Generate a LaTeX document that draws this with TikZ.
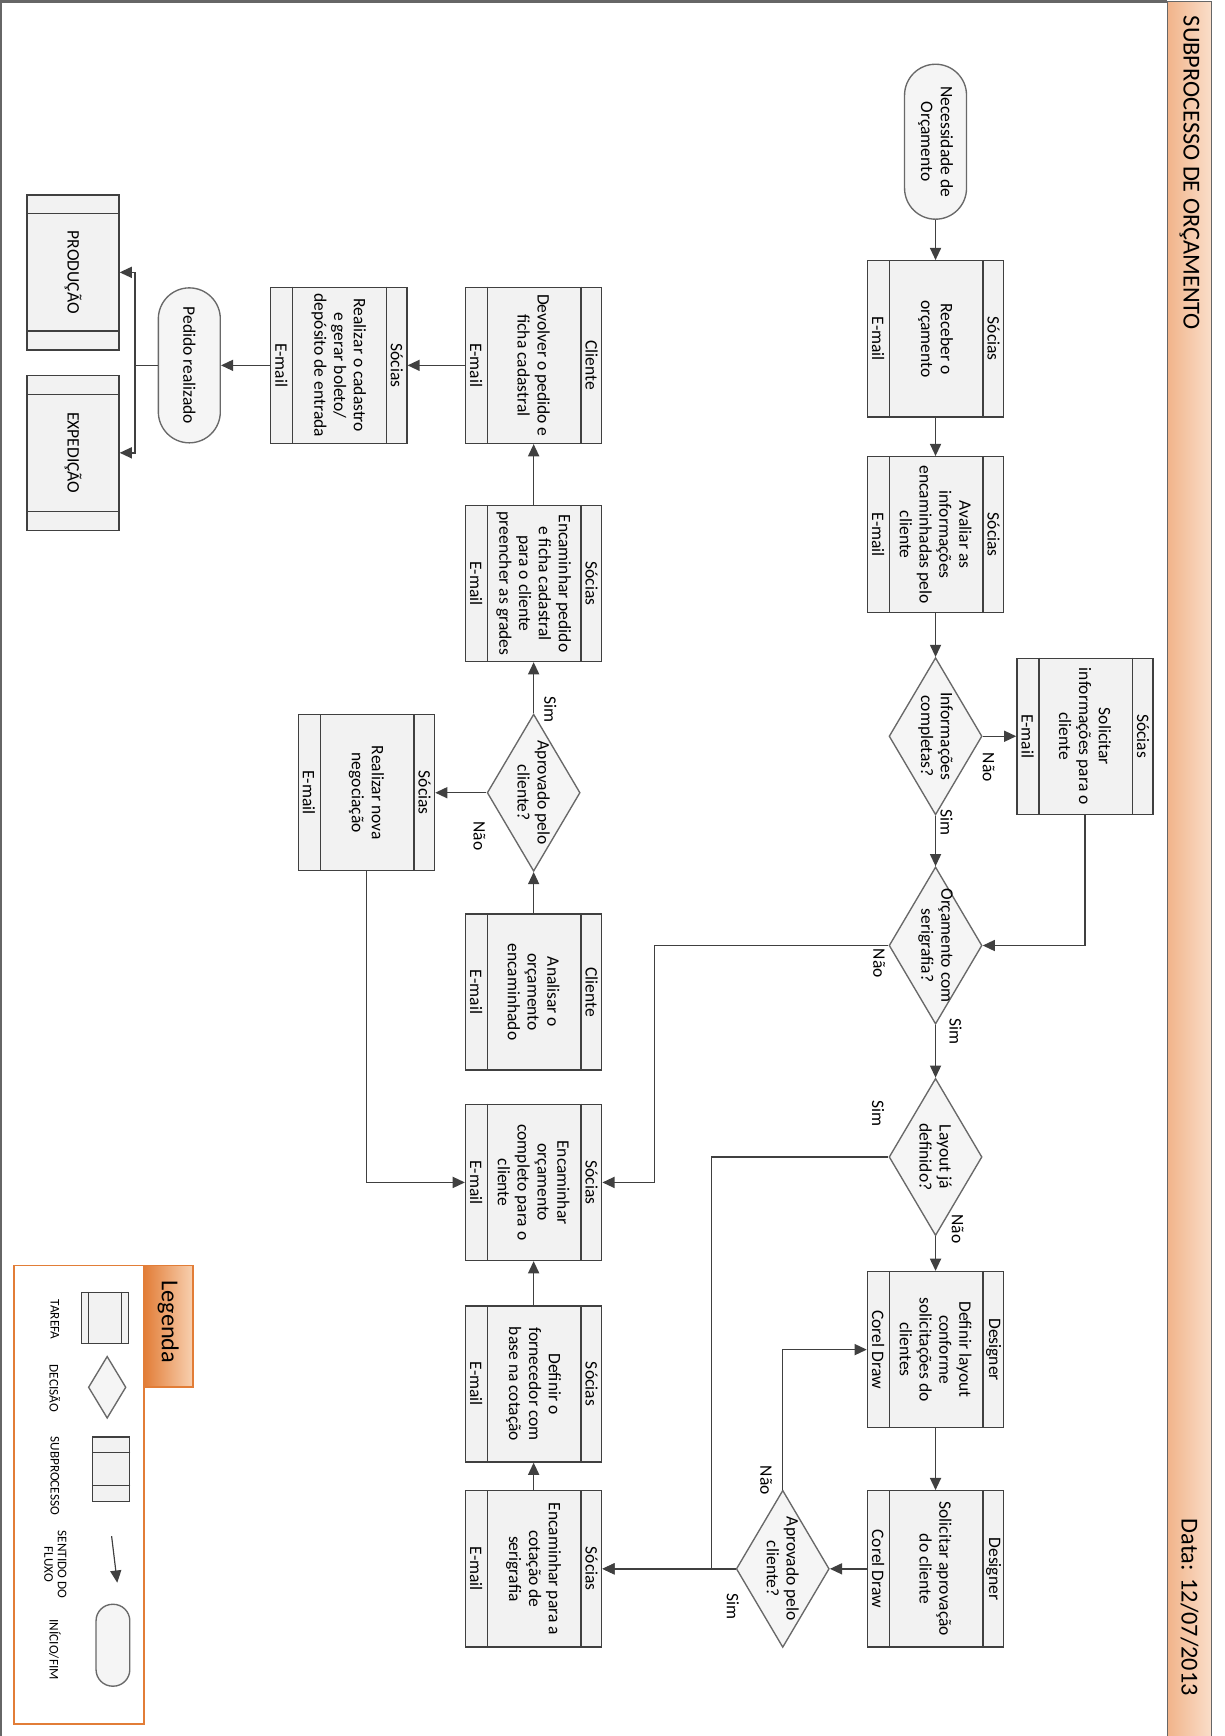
\documentclass[tikz,border=0pt]{standalone}
\usepackage{fontspec}
\setmainfont{Carlito}
\usetikzlibrary{calc,shapes.geometric,arrows.meta}

\definecolor{linhacinza}{RGB}{64,64,64}
\definecolor{bordacinza}{RGB}{105,105,105}
\definecolor{barraesc}{RGB}{241,180,138}
\definecolor{barraclr}{RGB}{250,222,202}
\definecolor{laranja}{RGB}{226,125,55}
\definecolor{laranjaclr}{RGB}{248,208,176}

% caixa de tarefa: nome, posicao, papel, texto, ferramenta
\newcommand{\tarefa}[5]{%
  \node[tarefa] (#1) at (#2) {};
  \draw[borda] ($(#1.north west)!0.155!(#1.south west)$) -- ($(#1.north east)!0.155!(#1.south east)$);
  \draw[borda] ($(#1.south west)!0.165!(#1.north west)$) -- ($(#1.south east)!0.165!(#1.north east)$);
  \node[rotulo] (#1-r) at ($(#1.north)!0.078!(#1.south)$) {#3};
  \node[rotulo] (#1-t) at (#1.center) {#4};
  \node[rotulo] (#1-f) at ($(#1.south)!0.082!(#1.north)$) {#5};
}
% losango de decisao
\newcommand{\decisao}[3]{%
  \node[decisao] (#1) at (#2) {};
  \node[rotulo] (#1-t) at (#1.center) {#3};
}
% subprocesso
\newcommand{\subproc}[3]{%
  \node[subproc] (#1) at (#2) {};
  \draw[borda] ($(#1.north west)!0.125!(#1.north east)$) -- ($(#1.south west)!0.125!(#1.south east)$);
  \draw[borda] ($(#1.north east)!0.125!(#1.north west)$) -- ($(#1.south east)!0.125!(#1.south west)$);
  \node[rotulo] (#1-t) at (#1.center) {#3};
}

\begin{document}
\begin{tikzpicture}[x=0.02cm, y=-0.02cm,
  rotulo/.style={rotate=-90, inner sep=0pt, align=center, font=\fontsize{9}{10.2}\selectfont},
  tarefa/.style={rectangle, rotate=-90, draw=linhacinza, fill=black!5, line width=0.7pt, minimum width=2.82cm, minimum height=2.46cm, inner sep=0pt},
  borda/.style={draw=linhacinza, line width=0.7pt},
  decisao/.style={diamond, rotate=-90, draw=bordacinza, fill=black!4, line width=0.7pt, minimum width=2.84cm, minimum height=1.68cm, inner sep=0pt},
  inicio/.style={rectangle, rotate=-90, rounded corners=0.56cm, draw=bordacinza, fill=black!4, line width=0.7pt, minimum width=2.8cm, minimum height=1.12cm, inner sep=0pt, align=center, font=\fontsize{9}{10.2}\selectfont},
  subproc/.style={rectangle, rotate=-90, draw=linhacinza, fill=black!5, line width=0.7pt, minimum width=2.8cm, minimum height=1.66cm, inner sep=0pt},
  fluxo/.style={draw=linhacinza, line width=0.75pt, -{Triangle[length=0.22cm,width=0.2cm]}},
  legtxt/.style={rotate=-90, inner sep=0pt, align=center, font=\fontsize{6.8}{7}\selectfont},
  titulo/.style={rotate=-90, inner sep=0pt, font=\fontsize{12.5}{14}\selectfont}]
\useasboundingbox (0,0) rectangle (1106,1568);

% moldura e cabecalho
\draw[draw=black!60, line width=1.4pt] (1,1575) -- (1,1.5) -- (1054.5,1.5);
\draw[draw=black!60, line width=0.8pt, left color=barraesc, right color=barraclr] (1054.5,1.5) rectangle (1094.3,1575);
\node[titulo, anchor=west] (tit) at (1074.4,14) {SUBPROCESSO DE ORÇAMENTO};
\node[titulo, anchor=east] (data) at (1074.4,1532) {Data: 12/07/2013};

% fluxo principal
\node[inicio] (nec) at (845,128) {Necessidade de\\Orçamento};
\tarefa{receber}{845,306}{Sócias}{Receber o\\orçamento}{E-mail}
\tarefa{avaliar}{845,483}{Sócias}{Avaliar as\\informações\\encaminhadas pelo\\cliente}{E-mail}
\decisao{infcomp}{845,665}{Informações\\completas?}
\tarefa{solicinf}{980,665}{Sócias}{Solicitar\\informações para o\\cliente}{E-mail}
\decisao{orcser}{845,854}{Orçamento com\\serigrafia?}
\decisao{layout}{845,1045}{Layout já\\definido?}
\tarefa{deflayout}{845,1219}{Designer}{Definir layout\\conforme\\solicitações do\\clientes}{Corel Draw}
\tarefa{solaprov}{845,1417}{Designer}{Solicitar aprovação\\do cliente}{Corel Draw}
\decisao{aprovA}{707,1417}{Aprovado pelo\\cliente?}
\tarefa{cotacao}{482,1417}{Sócias}{Encaminhar para a\\cotação de\\serigrafia}{E-mail}
\tarefa{fornecedor}{482,1250}{Sócias}{Definir o\\fornecedor com\\base na cotação}{E-mail}
\tarefa{orccompleto}{482,1068}{Sócias}{Encaminhar\\orçamento\\completo para o\\cliente}{E-mail}
\tarefa{analisar}{482,896}{Cliente}{Analisar o\\orçamento\\encaminhado}{E-mail}
\decisao{aprovB}{482,716}{Aprovado pelo\\cliente?}
\tarefa{novaneg}{331,716}{Sócias}{Realizar nova\\negociação}{E-mail}
\tarefa{encpedido}{482,527}{Sócias}{Encaminhar pedido\\e ficha cadastral\\para o cliente\\preencher as grades}{E-mail}
\tarefa{devolver}{482,330}{Cliente}{Devolver o pedido e\\ficha cadastral}{E-mail}
\tarefa{cadastro}{306,330}{Sócias}{Realizar o cadastro\\e gerar boleto/\\depósito de entrada}{E-mail}
\node[inicio] (pedido) at (171,330) {Pedido realizado};
\subproc{producao}{66,246}{PRODUÇÃO}
\subproc{expedicao}{66,409}{EXPEDIÇÃO}
\coordinate (bif) at (122,330);

% respostas
\node[rotulo] (n1) at (893,693) {Não};
\node[rotulo] (s1) at (855,743) {Sim};
\node[rotulo] (n2) at (794,870) {Não};
\node[rotulo] (s2) at (863,932) {Sim};
\node[rotulo] (s3) at (793,1006) {Sim};
\node[rotulo] (n3) at (865,1110) {Não};
\node[rotulo] (n4) at (692,1337) {Não};
\node[rotulo] (s4) at (662,1451) {Sim};
\node[rotulo] (s5) at (497,641) {Sim};
\node[rotulo] (n5) at (433,755) {Não};

% conectores
\draw[fluxo] (nec) -- (receber);
\draw[fluxo] (receber) -- (avaliar);
\draw[fluxo] (avaliar) -- (infcomp);
\draw[fluxo] (infcomp) -- (solicinf);
\draw[fluxo] (infcomp) -- (orcser);
\draw[fluxo] (solicinf) |- (orcser);
\draw[fluxo] (orcser) -- (layout);
\draw[fluxo] (orcser.south) -- ++(-211,0) |- (orccompleto);
\draw[fluxo] (layout) -- (deflayout);
\draw[fluxo] (layout.south) -- ++(-160,0) |- (cotacao);
\draw[fluxo] (deflayout) -- (solaprov);
\draw[fluxo] (solaprov) -- (aprovA);
\draw[fluxo] (aprovA) |- (deflayout);
\draw[fluxo] (aprovA) -- (cotacao);
\draw[fluxo] (cotacao) -- (fornecedor);
\draw[fluxo] (fornecedor) -- (orccompleto);
\draw[fluxo] (analisar) -- (aprovB);
\draw[fluxo] (aprovB) -- (encpedido);
\draw[fluxo] (aprovB) -- (novaneg);
\draw[fluxo] (novaneg) |- (orccompleto);
\draw[fluxo] (encpedido) -- (devolver);
\draw[fluxo] (devolver) -- (cadastro);
\draw[fluxo] (cadastro) -- (pedido);
\draw[borda] (pedido) -- (bif);
\draw[fluxo] (bif) |- (producao);
\draw[fluxo] (bif) |- (expedicao);

% legenda
\draw[draw=laranja, line width=0.9pt, fill=white] (12.6,1143) rectangle (130,1557);
\draw[draw=laranja, line width=0.9pt, left color=laranja, right color=laranjaclr] (130,1143) rectangle (174,1253);
\node[titulo] (legenda) at (152,1194) {Legenda};
\node[tarefa, minimum width=0.92cm, minimum height=0.84cm] (ltar) at (94.8,1190.5) {};
\draw[borda] ($(ltar.north west)!0.16!(ltar.south west)$) -- ($(ltar.north east)!0.16!(ltar.south east)$);
\draw[borda] ($(ltar.south west)!0.16!(ltar.north west)$) -- ($(ltar.south east)!0.16!(ltar.north east)$);
\node[decisao, minimum width=1.12cm, minimum height=0.68cm] (ldec) at (96.8,1253) {};
\node[subproc, minimum width=1.16cm, minimum height=0.67cm] (lsub) at (100.5,1327) {};
\draw[borda] ($(lsub.north west)!0.25!(lsub.north east)$) -- ($(lsub.south west)!0.25!(lsub.south east)$);
\draw[borda] ($(lsub.north east)!0.25!(lsub.north west)$) -- ($(lsub.south east)!0.25!(lsub.south west)$);
\coordinate (lseta1) at (100.8,1387.4);
\coordinate (lseta2) at (105.9,1429.5);
\draw[fluxo, line width=0.6pt] (lseta1) -- (lseta2);
\node[inicio, minimum width=1.48cm, minimum height=0.61cm, rounded corners=0.3cm] (lini) at (102,1486) {};
\node[legtxt] (ltar-t) at (49.5,1192) {TAREFA};
\node[legtxt] (ldec-t) at (49.5,1254) {DECISÃO};
\node[legtxt] (lsub-t) at (49.5,1333) {SUBPROCESSO};
\node[legtxt] (lseta-t) at (50,1413) {SENTIDO DO\\FLUXO};
\node[legtxt] (lini-t) at (49.5,1490) {INÍCIO/FIM};
\end{tikzpicture}
\end{document}
